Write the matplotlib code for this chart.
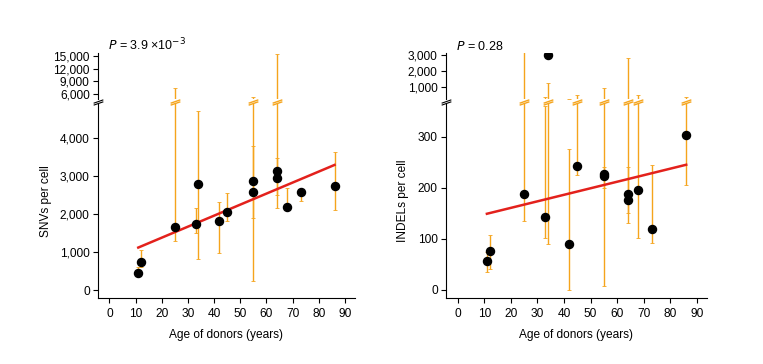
import numpy as np
import matplotlib
matplotlib.use('Agg')
import matplotlib.pyplot as plt
import matplotlib.transforms as mtransforms
from matplotlib.path import Path
from matplotlib.ticker import FuncFormatter

plt.rcParams['font.family'] = ['Liberation Sans', 'DejaVu Sans']

# SNV panel
snv_age = [11, 12, 25, 33, 34, 42, 45, 55, 55, 64, 64, 68, 73, 86]
snv_val = [460, 740, 1670, 1740, 2790, 1820, 2050, 2870, 2580, 3150, 2960, 2180, 2590, 2740]
snv_lo = [380, 600, 1300, 1500, 820, 970, 1810, 250, 1900, 2160, 2500, 2100, 2340, 2120]
snv_hi = [620, 1060, 7400, 2160, 4720, 2310, 2560, 5300, 3810, 15500, 3480, 2690, 2660, 3640]
snv_fit_x = [11, 86]
snv_fit_y = [1120, 3300]

# INDEL panel
indel_age = [11, 12, 25, 33, 34, 42, 45, 55, 55, 64, 64, 68, 73, 86]
indel_val = [57, 77, 188, 142, 3000, 90, 243, 226, 223, 188, 175, 195, 120, 303]
indel_lo = [34, 40, 134, 101, 90, 0, 224, 8, 200, 131, 150, 101, 92, 205]
indel_hi = [75, 108, 3170, 360, 1270, 275, 500, 960, 240, 2790, 240, 500, 244, 400]
indel_fit_x = [11, 86]
indel_fit_y = [149, 245]

age_ticks = [0, 10, 20, 30, 40, 50, 60, 70, 80, 90]

ORANGE = '#f5a41c'
RED = '#e3211c'
FS = 8.6

fig = plt.figure(figsize=(7.63, 3.64), dpi=100)

slash = Path([(-1, -0.55), (1, 0.15), (-1, -0.15), (1, 0.55)],
             [Path.MOVETO, Path.LINETO, Path.MOVETO, Path.LINETO])

comma = FuncFormatter(lambda v, p: '{:,.0f}'.format(v))


def within(v, lim):
    v = np.array(v, dtype=float)
    return np.where((v >= lim[0]) & (v <= lim[1]), v, np.nan)


def panel(left, width, age, val, lo, hi, fit_x, fit_y, low_lim, up_lim,
          low_ticks, up_ticks, ylabel, ptext):
    bot, low_top, up_bot, up_top = 0.1813, 0.7143, 0.728, 0.8544
    ax = fig.add_axes([left, bot, width, low_top - bot])
    ax2 = fig.add_axes([left, up_bot, width, up_top - up_bot])
    val = np.array(val, dtype=float)
    in_low = val <= low_lim[1]
    for a, mask, lim in ((ax, in_low, low_lim), (ax2, ~in_low, up_lim)):
        a.vlines(age, lo, hi, color=ORANGE, lw=1.0, zorder=1)
        a.plot(age, within(lo, lim), '_', color=ORANGE, ms=3, mew=0.6, zorder=1)
        a.plot(age, within(hi, lim), '_', color=ORANGE, ms=3, mew=0.6, zorder=1)
        a.plot(age, np.where(mask, val, np.nan), 'o', color='black', ms=5.8, zorder=3)
        a.set_xlim(-4.4, 93.8)
        a.spines['top'].set_visible(False)
        a.spines['right'].set_visible(False)
        a.tick_params(labelsize=FS, length=3.5, width=0.8, pad=2.5)
        a.yaxis.set_major_formatter(comma)
    ax.plot(fit_x, fit_y, color=RED, lw=1.8, zorder=2)
    ax.set_ylim(*low_lim)
    ax.set_yticks(low_ticks)
    ax.set_xticks(age_ticks)
    ax.tick_params(axis='x', pad=4)
    ax.set_xlabel('Age of donors (years)', fontsize=FS, labelpad=6)
    ax.set_ylabel(ylabel, fontsize=FS, labelpad=6)
    ax2.set_ylim(*up_lim)
    ax2.set_yticks(up_ticks)
    ax2.set_xticks([])
    ax2.spines['bottom'].set_visible(False)
    ax2.text(0.04, 1.0, ptext, transform=ax2.transAxes, fontsize=FS + 0.4,
             va='bottom', ha='left')
    # break marks
    gap = (low_top + up_bot) / 2
    tr = mtransforms.blended_transform_factory(ax.transData, fig.transFigure)
    for x, h in zip(age, hi):
        if h > low_lim[1]:
            ax.plot([x], [gap], transform=tr, marker=slash, ms=7,
                    mec=ORANGE, mew=1.0, ls='none', clip_on=False)
    ax.plot([-4.4], [gap], transform=tr, marker=slash, ms=7,
            mec='black', mew=0.8, ls='none', clip_on=False)


panel(0.1284, 0.3368, snv_age, snv_val, snv_lo, snv_hi, snv_fit_x, snv_fit_y,
      (-211, 4908), (4904, 15627), [0, 1000, 2000, 3000, 4000],
      [6000, 9000, 12000, 15000], 'SNVs per cell', r'$P$ = 3.9 ×10$^{-3}$')
panel(0.5845, 0.342, indel_age, indel_val, indel_lo, indel_hi, indel_fit_x, indel_fit_y,
      (-16, 364), (250, 3125), [0, 100, 200, 300],
      [1000, 2000, 3000], 'INDELs per cell', r'$P$ = 0.28')

fig.savefig('out.png', dpi=100)
